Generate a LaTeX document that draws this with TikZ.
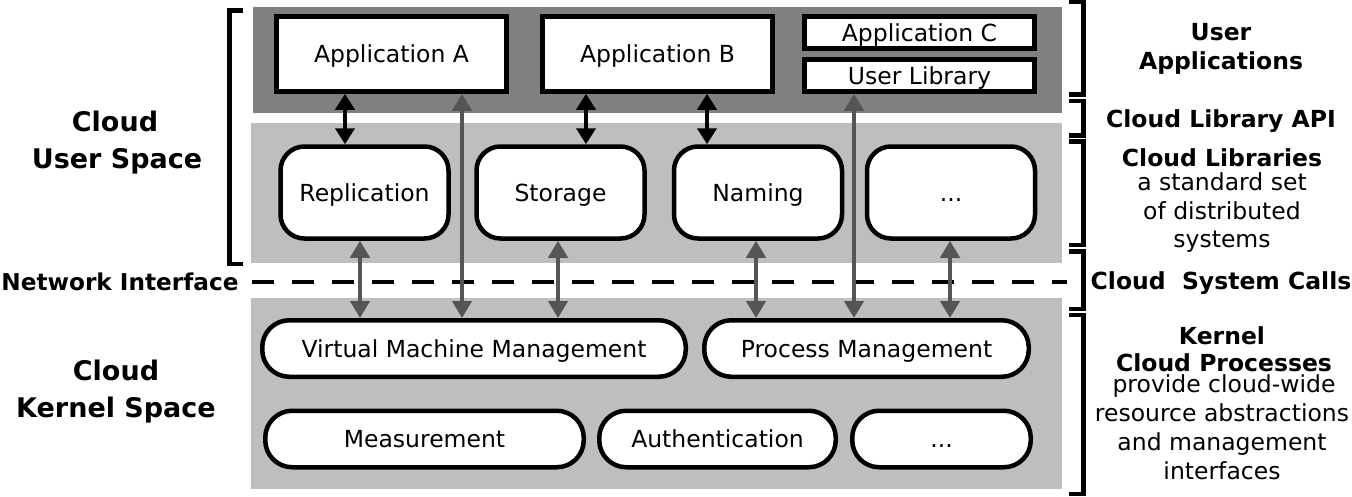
\documentclass[tikz,border=0pt]{standalone}
\usepackage{fontspec}
\setmainfont{DejaVu Sans}
\usetikzlibrary{arrows.meta}
\definecolor{darkband}{HTML}{808080}
\definecolor{lightband}{HTML}{BEBEBE}
\definecolor{arrgray}{HTML}{555555}
\begin{document}
\begin{tikzpicture}[x=1pt,y=-1pt,
  txt/.style={font=\fontsize{23.5}{28}\selectfont, inner sep=0pt},
  boldlbl/.style={font=\fontsize{23.5}{28}\selectfont\bfseries, inner sep=0pt, anchor=base},
  desclbl/.style={font=\fontsize{23.5}{28}\selectfont, inner sep=0pt, anchor=base},
  leftlbl/.style={font=\fontsize{27}{32}\selectfont\bfseries, inner sep=0pt, anchor=base},
  rectbox/.style={draw=black, line width=4.5pt, fill=white, txt, text height=20.5pt, text depth=3pt},
  libbox/.style={rectbox, rounded corners=24pt, minimum width=168pt, minimum height=92pt},
  kbox/.style={rectbox, rounded corners=27pt, minimum height=56.5pt},
  blk/.style={draw=black, line width=4.5pt, {Triangle[length=16pt,width=19pt]}-{Triangle[length=16pt,width=19pt]}},
  gry/.style={draw=arrgray, line width=4.3pt, {Triangle[length=17pt,width=19pt]}-{Triangle[length=17pt,width=19pt]}},
  brk/.style={draw=black, line width=4.5pt, miter limit=10},
  dashline/.style={draw=black, line width=4pt, dash pattern=on 22pt off 18pt}
]
\useasboundingbox (0,0) rectangle (1352,496);

% bands
\fill[darkband] (253,7) rectangle (1062,112.5);
\fill[lightband] (251,123) rectangle (1062,263);
\fill[lightband] (251,298) rectangle (1062,489);

% dashed network interface line
\coordinate (d1) at (252,282);
\coordinate (d2) at (1067,282);
\draw[dashline] (d1) -- (d2);

% user applications
\node[rectbox, minimum width=230pt, minimum height=75pt] (appA) at (391.5,54) {Application A};
\node[rectbox, minimum width=230pt, minimum height=75pt] (appB) at (657.5,54) {Application B};
\node[rectbox, minimum width=230pt, minimum height=32pt] (appC) at (919.5,32.5) {Application C};
\node[rectbox, minimum width=230pt, minimum height=32pt] (ulib) at (919.5,75.5) {User Library};

% cloud libraries
\node[libbox] (rep) at (364.5,192.5) {Replication};
\node[libbox] (sto) at (560.5,192.5) {Storage};
\node[libbox] (nam) at (758,192.5) {Naming};
\node[libbox] (ldots) at (951,192.5) {...};

% kernel processes
\node[kbox, minimum width=423.5pt] (vm) at (474,348.5) {Virtual Machine Management};
\node[kbox, minimum width=324.5pt] (proc) at (866.5,348.5) {Process Management};
\node[kbox, minimum width=318.5pt] (meas) at (424.5,439) {Measurement};
\node[kbox, minimum width=236.5pt] (auth) at (717.5,439) {Authentication};
\node[kbox, minimum width=178.5pt] (kdots) at (941.5,439) {...};

% columns for connectors
\coordinate (c1) at (345,0);
\coordinate (c2) at (586,0);
\coordinate (c3) at (707,0);
\coordinate (g1) at (360,0);
\coordinate (g2) at (462,0);
\coordinate (g3) at (558,0);
\coordinate (g4) at (756,0);
\coordinate (g5) at (854,0);
\coordinate (g6) at (950,0);

% black arrows: applications <-> libraries
\draw[blk] (appA.south -| c1) -- (rep.north -| c1);
\draw[blk] (appB.south -| c2) -- (sto.north -| c2);
\draw[blk] (appB.south -| c3) -- (nam.north -| c3);

% gray arrows: to kernel
\draw[gry] (rep.south -| g1) -- (vm.north -| g1);
\draw[gry] (appA.south -| g2) -- (vm.north -| g2);
\draw[gry] (sto.south -| g3) -- (vm.north -| g3);
\draw[gry] (nam.south -| g4) -- (proc.north -| g4);
\draw[gry] (ulib.south -| g5) -- (proc.north -| g5);
\draw[gry] (ldots.south -| g6) -- (proc.north -| g6);

% left bracket
\draw[brk] (243,10.5) -- (229.5,10.5) -- (229.5,264) -- (243,264);

% right brackets
\draw[brk] (1069,2) -- (1083.5,2) -- (1083.5,94.5) -- (1069,94.5);
\draw[brk] (1069,101) -- (1083.5,101) -- (1083.5,135.5) -- (1069,135.5);
\draw[brk] (1069,141.5) -- (1083.5,141.5) -- (1083.5,245) -- (1069,245);
\draw[brk] (1069,251.5) -- (1083.5,251.5) -- (1083.5,309) -- (1069,309);
\draw[brk] (1069,315) -- (1083.5,315) -- (1083.5,494) -- (1069,494);

% left labels
\node[leftlbl] (lu1) at (115,131) {Cloud};
\node[leftlbl] (lu2) at (117,168) {User Space};
\node[boldlbl, font=\fontsize{23.2}{28}\selectfont\bfseries] (lnet) at (120,290) {Network Interface};
\node[leftlbl] (lk1) at (116,380) {Cloud};
\node[leftlbl] (lk2) at (116,417) {Kernel Space};

% right labels
\node[boldlbl] (r1) at (1221,40) {User};
\node[boldlbl] (r2) at (1221,69) {Applications};
\node[boldlbl] (r3) at (1221,127) {Cloud Library API};
\node[boldlbl] (r4) at (1222,166) {Cloud Libraries};
\node[desclbl] (r5) at (1222,190) {a standard set};
\node[desclbl] (r6) at (1222,219) {of distributed};
\node[desclbl] (r7) at (1222,247) {systems};
\node[boldlbl] (r8) at (1221,289) {Cloud\ \ System Calls};
\node[boldlbl] (r9) at (1222,344) {Kernel};
\node[boldlbl] (r10) at (1224,371) {Cloud Processes};
\node[desclbl] (r11) at (1224,392) {provide cloud-wide};
\node[desclbl] (r12) at (1222,421) {resource abstractions};
\node[desclbl] (r13) at (1222,450) {and management};
\node[desclbl] (r14) at (1222,479) {interfaces};
\end{tikzpicture}
\end{document}
